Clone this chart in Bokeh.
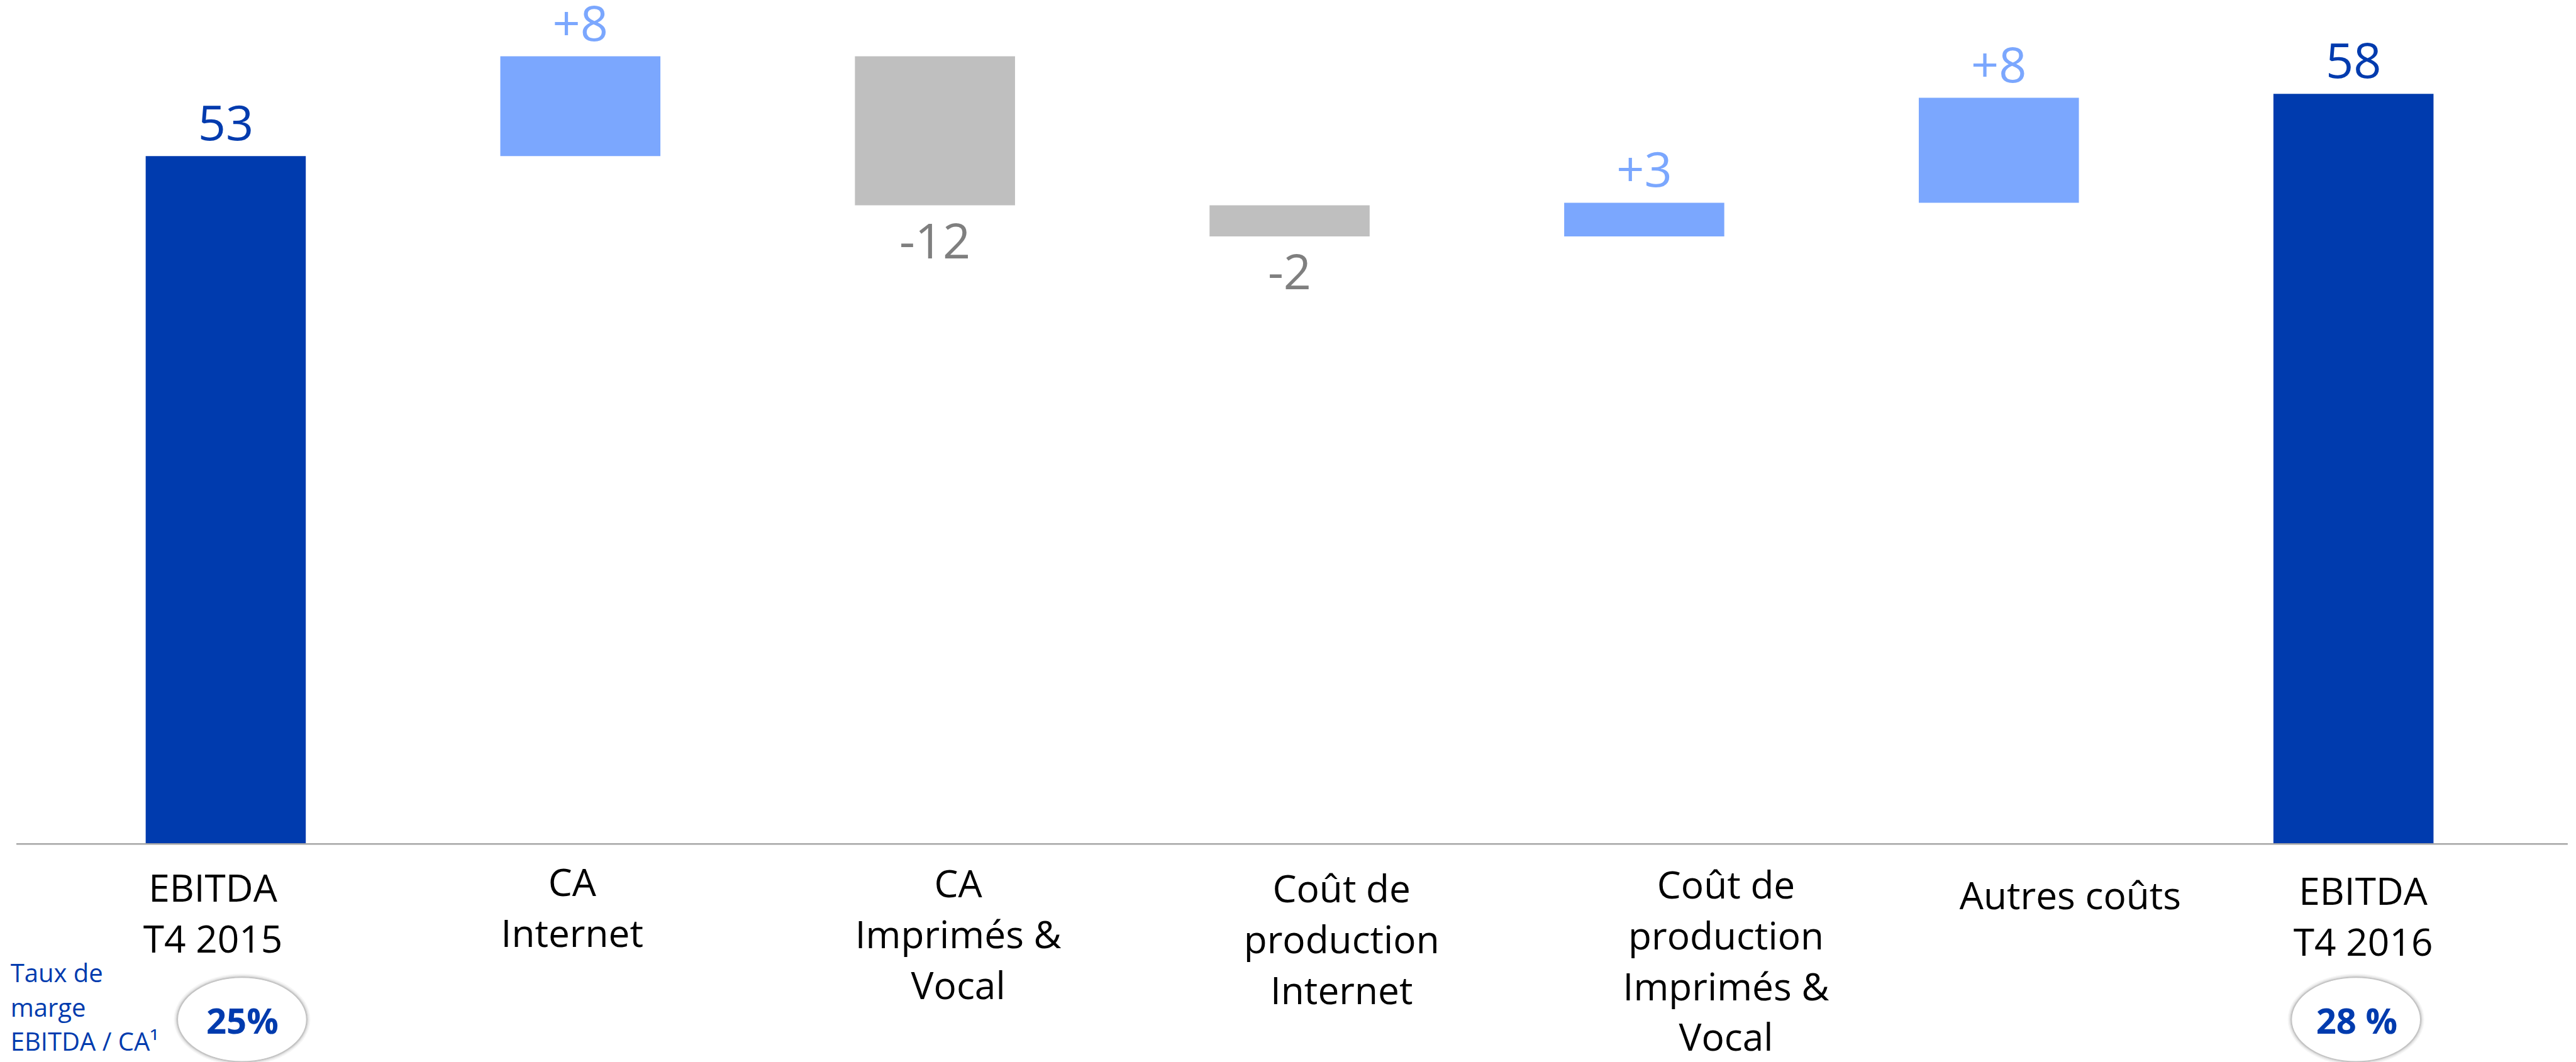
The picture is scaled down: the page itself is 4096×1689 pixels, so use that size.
from bokeh.plotting import figure
from bokeh.models import Range1d, ColumnDataSource
from bokeh.core.properties import value
from bokeh.embed import file_html
from bokeh.resources import INLINE

# ---------------- data ----------------
categories = [
    "EBITDA\nT4 2015",
    "CA\nInternet",
    "CA\nImprimés &\nVocal",
    "Coût de\nproduction\nInternet",
    "Coût de\nproduction\nImprimés &\nVocal",
    "Autres coûts",
    "EBITDA\nT4 2016",
]
ebitda_start = 53.1
deltas = [7.7, -11.5, -2.4, 2.6, 8.1]
ebitda_end = 57.9
value_labels = ["53", "+8", "-12", "-2", "+3", "+8", "58"]
margin_index = [0, 6]
margin_labels = ["25%", "28 %"]
margin_caption = ["Taux de", "marge", "EBITDA / CA¹"]

# ---------------- layout (reference pixels, scaled by S) ----------------
S = 0.851
W, H = 4096, 1689
REF_W, REF_H = 4811, 1984
X0_PX, STEP_PX = 421.0, 662.3       # first bar centre, category step
BASE_PX, UNIT_PX = 1576.0, 24.2      # zero line, pixels per unit
BAR_W = 299.0 / STEP_PX
BL_FIX = 0.42                        # renderer baseline correction (em)

def dx(px):   # horizontal pixel distance -> data
    return px / STEP_PX

def dy(px):   # vertical pixel distance -> data
    return px / UNIT_PX

DARK = "#003BAE"
LIGHT = "#7BA7FE"
GREY = "#BFBFBF"
GREY_TXT = "#7F7F7F"
FONT = "Open Sans"

VAL_FS, CAT_FS, MAR_FS, CAP_FS = 91, 71, 66, 47   # reference px

# ---------------- waterfall geometry from data ----------------
xs = list(range(len(categories)))
bottoms, tops, fills, tcols, kinds = [], [], [], [], []
bottoms.append(0.0); tops.append(ebitda_start); fills.append(DARK); tcols.append(DARK); kinds.append("tot")
cur = ebitda_start
for d in deltas:
    lo, hi = min(cur, cur + d), max(cur, cur + d)
    bottoms.append(lo); tops.append(hi)
    if d >= 0:
        fills.append(LIGHT); tcols.append(LIGHT); kinds.append("pos")
    else:
        fills.append(GREY); tcols.append(GREY_TXT); kinds.append("neg")
    cur += d
bottoms.append(0.0); tops.append(ebitda_end); fills.append(DARK); tcols.append(DARK); kinds.append("tot")

p = figure(
    width=W, height=H,
    x_range=Range1d(-dx(X0_PX), dx(REF_W - X0_PX)),
    y_range=Range1d(-dy(REF_H - BASE_PX), dy(BASE_PX)),
    x_axis_type=None, y_axis_type=None,
    output_backend="svg", toolbar_location=None,
    min_border=0, outline_line_color=None,
    background_fill_color="white", border_fill_color="white",
)
p.grid.visible = False

bar_src = ColumnDataSource(dict(x=xs, bottom=bottoms, top=tops, fcol=fills))
p.vbar(x="x", width=BAR_W, bottom="bottom", top="top", fill_color="fcol",
       line_color=None, source=bar_src)

# zero line
p.segment(x0=[-dx(X0_PX - 30)], y0=[0], x1=[dx(4795 - X0_PX)], y1=[0],
          line_color="#A6A6A6", line_width=3 * S)

# value labels
lab_y = []
for k, b, t in zip(kinds, bottoms, tops):
    if k == "neg":
        lab_y.append(b - dy(104) + dy(BL_FIX * VAL_FS))
    else:
        lab_y.append(t + dy(24) + dy(BL_FIX * VAL_FS))
val_src = ColumnDataSource(dict(x=xs, y=lab_y, text=value_labels, tcol=tcols))
p.text(x="x", y="y", text="text", source=val_src, text_color="tcol",
       text_font=value(FONT), text_font_size=value(f"{VAL_FS * S:.1f}px"),
       text_align="center", text_baseline="alphabetic")

# category labels (one glyph per line)
label_center_px = [397, 1068, 1789, 2505, 3223, 3866, 4413]
first_baseline_px = [1686, 1676, 1678, 1687, 1680, 1700, 1692]
LINE_PX = 95
cx, cy, ct = [], [], []
for i, cat in enumerate(categories):
    bar_c = X0_PX + STEP_PX * i
    for j, line in enumerate(cat.split("\n")):
        cx.append(i + dx(label_center_px[i] - bar_c))
        cy.append(-dy(first_baseline_px[i] + j * LINE_PX - BASE_PX) + dy(BL_FIX * CAT_FS))
        ct.append(line)
cat_src = ColumnDataSource(dict(x=cx, y=cy, text=ct))
p.text(x="x", y="y", text="text", source=cat_src, text_color="#000000",
       text_font=value(FONT), text_font_size=value(f"{CAT_FS * S:.1f}px"),
       text_align="center", text_baseline="alphabetic")

# margin ellipses
ell_center_px = [451.5, 4399.5]
ex = [margin_index[k] + dx(ell_center_px[k] - (X0_PX + STEP_PX * margin_index[k]))
      for k in range(len(margin_index))]
ey = [-dy(1904 - BASE_PX)] * len(ex)
EW, EH = 241.0, 157.0
for grow, alpha in [(14, 0.04), (9, 0.06), (5, 0.09), (2, 0.12)]:
    p.ellipse(x=ex, y=ey, width=dx(EW + grow), height=dy(EH + grow),
              fill_color="#000000", fill_alpha=alpha, line_color=None)
p.ellipse(x=ex, y=ey, width=dx(EW), height=dy(EH), fill_color="white",
          line_color="#C4C4C4", line_width=1.5)

mx = [margin_index[k] + dx([452, 4401][k] - (X0_PX + STEP_PX * margin_index[k]))
      for k in range(len(margin_index))]
my = [-dy(1932 - BASE_PX) + dy(BL_FIX * MAR_FS)] * len(mx)
p.text(x=mx, y=my, text=margin_labels, text_color=DARK,
       text_font=value(FONT), text_font_style="bold",
       text_font_size=value(f"{MAR_FS * S:.1f}px"),
       text_align="center", text_baseline="alphabetic")

# caption on the left
cap_x = [-dx(X0_PX - 19)] * len(margin_caption)
cap_y = [-dy(b - BASE_PX) + dy(BL_FIX * CAP_FS) for b in [1836, 1900, 1964]]
p.text(x=cap_x, y=cap_y, text=margin_caption, text_color=DARK,
       text_font=value(FONT), text_font_size=value(f"{CAP_FS * S:.1f}px"),
       text_align="left", text_baseline="alphabetic")

open("out.html", "w").write(file_html(p, INLINE))
